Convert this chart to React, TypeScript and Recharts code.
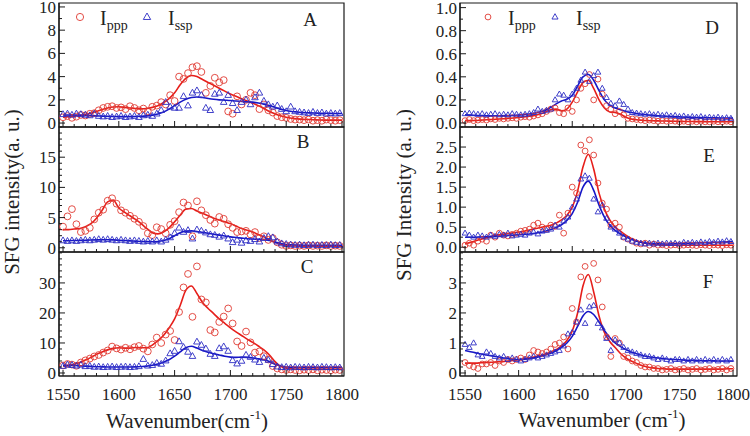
import React from 'react';
import { ComposedChart, Scatter, Line, XAxis, YAxis, ReferenceArea } from 'recharts';

const FONT = "'Liberation Serif', 'DejaVu Serif', 'Times New Roman', serif";
const AXIS = '#1a1a1a';
const RED = '#e03a32';
const BLUE = '#2c2cc4';
const RED_LINE = '#e61e1a';
const BLUE_LINE = '#1616c6';

// wavenumber grid of the measured points (cm-1)
const scanWn = [
  1550, 1554, 1558, 1562, 1566, 1570, 1574, 1578, 1582, 1586,
  1590, 1594, 1598, 1602, 1606, 1610, 1614, 1618, 1622, 1626,
  1630, 1634, 1638, 1642, 1646, 1650, 1654, 1658, 1662, 1666,
  1670, 1674, 1678, 1682, 1686, 1690, 1694, 1698, 1702, 1706,
  1710, 1714, 1718, 1722, 1726, 1730, 1734, 1738, 1742, 1746,
  1750, 1754, 1758, 1762, 1766, 1770, 1774, 1778, 1782, 1786,
  1790, 1794, 1798,
];

// wavenumber grid of the fitted curves
const fitWn = [
  1550, 1555, 1560, 1565, 1570, 1575, 1580, 1585, 1590, 1595,
  1600, 1605, 1610, 1615, 1620, 1625, 1630, 1635, 1640, 1645,
  1650, 1655, 1660, 1665, 1670, 1675, 1680, 1685, 1690, 1695,
  1700, 1705, 1710, 1715, 1720, 1725, 1730, 1735, 1740, 1745,
  1750, 1755, 1760, 1765, 1770, 1775, 1780, 1785, 1790, 1795,
  1800,
];

const xLabels = [1550, 1600, 1650, 1700, 1750, 1800];

// ---- panel A ----
const aPpp = [
  0.5, 0.6, 0.45, 0.55, 0.7, 0.65, 0.8, 0.85, 1.1, 1.3,
  1.4, 1.45, 1.3, 1.35, 1.2, 1.45, 1.3, 1.1, 1.25, 1.0,
  1.4, 1.5, 1.8, 1.6, 2.4, 1.9, 4.0, 3.8, 4.3, 4.8,
  4.9, 4.4, 2.6, 3.2, 3.9, 3.5, 3.7, 1.0, 0.8, 2.3,
  1.6, 2.0, 2.6, 2.4, 1.2, 1.6, 1.1, 0.9, 0.6, 0.5,
  0.45, 0.35, 0.3, 0.3, 0.25, 0.3, 0.2, 0.25, 0.2, 0.3,
  0.25, 0.2, 0.25,
];
const aSsp = [
  0.75, 0.8, 0.7, 0.8, 0.75, 0.7, 0.65, 0.8, 0.6, 0.55,
  0.6, 0.5, 0.55, 0.6, 0.5, 0.55, 0.6, 0.5, 0.65, 0.7,
  0.6, 0.8, 1.1, 1.8, 1.4, 1.3, 1.3, 2.3, 1.5, 2.6,
  2.8, 2.4, 1.3, 1.1, 2.5, 2.6, 1.8, 2.4, 1.7, 1.1,
  1.8, 2.0, 1.6, 2.2, 2.6, 1.9, 1.6, 1.4, 1.5, 1.2,
  1.0, 1.4, 1.0, 0.95, 0.9, 0.85, 0.95, 0.85, 0.9, 0.8,
  0.85, 0.8, 0.85,
];
const aPppFit = [
  0.5, 0.55, 0.6, 0.65, 0.75, 0.85, 1.0, 1.15, 1.3, 1.38,
  1.4, 1.35, 1.3, 1.25, 1.22, 1.25, 1.35, 1.5, 1.75, 2.1,
  2.6, 3.3, 3.85, 4.1, 4.0, 3.75, 3.5, 3.25, 3.0, 2.75,
  2.5, 2.3, 2.1, 1.9, 1.7, 1.5, 1.25, 1.0, 0.8, 0.62,
  0.5, 0.42, 0.36, 0.32, 0.3, 0.28, 0.26, 0.25, 0.25, 0.25,
  0.25,
];
const aSspFit = [
  0.7, 0.7, 0.7, 0.68, 0.66, 0.64, 0.62, 0.6, 0.58, 0.56,
  0.55, 0.55, 0.55, 0.56, 0.58, 0.62, 0.68, 0.78, 0.95, 1.2,
  1.5, 1.8, 2.05, 2.2, 2.25, 2.2, 2.12, 2.05, 2.0, 1.97,
  1.94, 1.9, 1.87, 1.84, 1.8, 1.72, 1.62, 1.5, 1.35, 1.2,
  1.08, 1.0, 0.95, 0.9, 0.88, 0.86, 0.85, 0.84, 0.83, 0.82,
  0.82,
];

// ---- panel B ----
const bPpp = [
  3.5, 5.2, 6.4, 3.9, 2.6, 2.8, 3.3, 4.7, 5.8, 6.3,
  7.8, 8.2, 7.3, 6.2, 5.8, 5.3, 4.8, 4.3, 3.6, 2.4,
  2.1, 3.4, 3.1, 2.4, 3.8, 4.4, 5.9, 7.5, 7.0, 1.9,
  7.7, 6.2, 5.4, 4.6, 4.0, 5.1, 4.8, 3.9, 3.3, 2.6,
  2.7, 2.8, 2.2, 2.6, 1.6, 1.9, 1.3, 1.6, 0.9, 0.5,
  0.3, 0.4, 0.3, 0.35, 0.3, 0.4, 0.3, 0.35, 0.3, 0.4,
  0.3, 0.35, 0.3,
];
const bSsp = [
  1.2, 1.1, 1.2, 1.1, 1.2, 1.3, 1.2, 1.3, 1.4, 1.3,
  1.4, 1.3, 1.2, 1.3, 1.2, 1.1, 1.2, 1.1, 1.0, 1.1,
  1.0, 1.2, 1.0, 1.3, 1.7, 2.4, 3.3, 2.6, 2.9, 1.5,
  3.0, 2.8, 2.5, 2.2, 2.1, 1.8, 2.0, 1.5, 0.9, 1.3,
  0.8, 1.2, 1.1, 1.4, 1.0, 1.6, 1.9, 1.7, 1.0, 0.7,
  0.6, 0.5, 0.45, 0.5, 0.4, 0.45, 0.5, 0.4, 0.45, 0.4,
  0.5, 0.4, 0.45,
];
const bPppFit = [
  3.0, 3.0, 3.1, 3.2, 3.5, 4.0, 4.9, 6.2, 7.6, 7.9,
  6.6, 5.9, 5.3, 4.7, 4.0, 3.2, 2.5, 2.3, 2.6, 3.3,
  4.3, 5.4, 6.4, 6.5, 6.1, 5.7, 5.3, 4.9, 4.6, 4.3,
  4.0, 3.6, 3.2, 2.9, 2.6, 2.2, 1.8, 1.3, 0.9, 0.6,
  0.4, 0.3, 0.28, 0.26, 0.25, 0.25, 0.25, 0.25, 0.25, 0.25,
  0.25,
];
const bSspFit = [
  1.15, 1.17, 1.2, 1.22, 1.25, 1.28, 1.3, 1.32, 1.33, 1.3,
  1.25, 1.2, 1.15, 1.1, 1.05, 1.02, 1.0, 1.05, 1.2, 1.5,
  2.0, 2.5, 2.75, 2.8, 2.7, 2.55, 2.4, 2.25, 2.1, 1.95,
  1.8, 1.7, 1.6, 1.5, 1.45, 1.4, 1.35, 1.2, 0.95, 0.7,
  0.55, 0.48, 0.45, 0.43, 0.42, 0.42, 0.42, 0.42, 0.42, 0.42,
  0.42,
];

// ---- panel C ----
const cPpp = [
  2.5, 3.0, 2.8, 2.4, 3.5, 4.2, 4.8, 5.5, 6.0, 6.8,
  7.5, 8.8, 8.2, 7.8, 8.4, 7.9, 8.6, 9.0, 8.1, 7.2,
  9.5, 11.8, 10.0, 12.8, 14.0, 11.0, 20.3, 28.5, 33.0, 18.7,
  35.5, 24.5, 23.5, 14.3, 13.5, 17.0, 18.8, 21.5, 16.5, 10.5,
  9.0, 13.8, 10.2, 6.8, 7.2, 5.6, 4.5, 2.3, 1.5, 1.2,
  1.0, 1.2, 1.0, 0.9, 1.1, 1.0, 1.2, 0.9, 1.1, 1.0,
  0.9, 1.1, 1.0,
];
const cSsp = [
  2.3, 2.8, 2.6, 2.4, 2.7, 2.2, 2.3, 2.0, 2.1, 1.9,
  2.0, 2.1, 1.9, 2.0, 2.1, 1.9, 2.0, 2.2, 4.6, 2.4,
  2.6, 3.3, 3.0, 4.1, 6.5, 7.3, 10.5, 8.6, 7.0, 5.6,
  10.4, 9.3, 8.1, 6.3, 5.6, 8.2, 8.8, 7.3, 4.2, 3.1,
  4.0, 6.0, 5.3, 4.4, 3.6, 5.0, 4.3, 2.9, 2.1, 1.9,
  2.0, 1.8, 2.0, 1.9, 1.8, 2.0, 1.9, 1.8, 2.0, 1.9,
  1.8, 1.9, 1.8,
];
const cPppFit = [
  2.3, 2.5, 2.9, 3.5, 4.3, 5.2, 6.2, 7.0, 7.7, 8.2,
  8.4, 8.3, 8.3, 8.5, 8.4, 8.4, 9.3, 10.8, 12.5, 15.0,
  18.0, 22.5, 27.5, 29.0, 26.5, 23.5, 21.5, 19.8, 18.0, 16.5,
  15.0, 13.7, 12.5, 11.3, 10.2, 9.0, 7.7, 6.0, 3.8, 2.2,
  1.6, 1.4, 1.3, 1.3, 1.3, 1.3, 1.3, 1.3, 1.3, 1.3,
  1.3,
];
const cSspFit = [
  2.6, 2.6, 2.5, 2.4, 2.3, 2.2, 2.1, 2.05, 2.0, 2.0,
  2.0, 2.0, 2.0, 2.05, 2.15, 2.3, 2.6, 3.0, 3.6, 4.4,
  5.6, 7.0, 8.4, 8.9, 8.3, 7.5, 6.9, 6.4, 6.0, 5.6,
  5.3, 5.2, 5.3, 5.2, 5.0, 4.7, 4.4, 3.8, 2.9, 2.3,
  2.0, 1.9, 1.9, 1.9, 1.9, 1.9, 1.9, 1.9, 1.9, 1.9,
  1.9,
];

// ---- panel D ----
const dPpp = [
  0.02, 0.03, 0.02, 0.025, 0.03, 0.025, 0.035, 0.03, 0.04, 0.035,
  0.04, 0.045, 0.04, 0.05, 0.055, 0.05, 0.06, 0.07, 0.08, 0.1,
  0.12, 0.13, 0.09, 0.08, 0.13, 0.1, 0.2, 0.3, 0.34, 0.42,
  0.2, 0.38, 0.25, 0.15, 0.12, 0.08, 0.1, 0.07, 0.04, 0.035,
  0.03, 0.025, 0.02, 0.025, 0.02, 0.015, 0.02, 0.015, 0.02, 0.015,
  0.01, 0.015, 0.01, 0.015, 0.01, 0.015, 0.01, 0.01, 0.015, 0.01,
  0.01, 0.015, 0.01,
];
const dSsp = [
  0.08, 0.085, 0.08, 0.075, 0.08, 0.07, 0.075, 0.08, 0.07, 0.075,
  0.07, 0.08, 0.075, 0.07, 0.075, 0.08, 0.09, 0.12, 0.1, 0.11,
  0.12, 0.2, 0.25, 0.24, 0.2, 0.25, 0.3, 0.37, 0.44, 0.36,
  0.41, 0.44, 0.3, 0.22, 0.17, 0.15, 0.19, 0.16, 0.12, 0.09,
  0.085, 0.08, 0.075, 0.08, 0.07, 0.075, 0.065, 0.07, 0.06, 0.065,
  0.055, 0.06, 0.05, 0.055, 0.05, 0.055, 0.045, 0.05, 0.045, 0.05,
  0.04, 0.045, 0.04,
];
const dPppFit = [
  0.02, 0.02, 0.022, 0.025, 0.028, 0.03, 0.033, 0.036, 0.04, 0.043,
  0.047, 0.052, 0.058, 0.066, 0.078, 0.095, 0.115, 0.12, 0.105, 0.12,
  0.18, 0.27, 0.35, 0.37, 0.3, 0.2, 0.13, 0.095, 0.09, 0.075,
  0.05, 0.035, 0.028, 0.024, 0.021, 0.019, 0.018, 0.017, 0.016, 0.015,
  0.014, 0.013, 0.013, 0.012, 0.012, 0.011, 0.011, 0.01, 0.01, 0.01,
  0.01,
];
const dSspFit = [
  0.07, 0.068, 0.066, 0.064, 0.063, 0.062, 0.062, 0.063, 0.064, 0.066,
  0.068, 0.072, 0.077, 0.085, 0.095, 0.11, 0.135, 0.165, 0.19, 0.205,
  0.24, 0.32, 0.4, 0.42, 0.37, 0.28, 0.2, 0.155, 0.13, 0.115,
  0.1, 0.09, 0.082, 0.076, 0.071, 0.067, 0.063, 0.06, 0.057, 0.055,
  0.053, 0.051, 0.05, 0.048, 0.047, 0.046, 0.045, 0.044, 0.043, 0.042,
  0.042,
];

// ---- panel E ----
const ePpp = [
  0.05, 0.1, 0.05, 0.15, 0.2, 0.15, 0.3, 0.25, 0.35, 0.3,
  0.28, 0.32, 0.35, 0.4, 0.42, 0.45, 0.55, 0.6, 0.5, 0.45,
  0.55, 0.52, 0.8, 0.35, 0.85, 1.5, 1.35, 2.55, 2.4, 2.68,
  2.3, 1.6, 1.1, 0.95, 0.55, 0.6, 0.5, 0.25, 0.2, 0.15,
  0.1, 0.08, 0.1, 0.05, 0.08, 0.05, 0.06, 0.04, 0.05, 0.06,
  0.04, 0.05, 0.06, 0.05, 0.04, 0.06, 0.05, 0.04, 0.06, 0.05,
  0.04, 0.06, 0.05,
];
const eSsp = [
  0.35, 0.3, 0.25, 0.3, 0.28, 0.25, 0.3, 0.27, 0.32, 0.3,
  0.35, 0.28, 0.3, 0.32, 0.3, 0.35, 0.38, 0.33, 0.4, 0.42,
  0.45, 0.55, 0.5, 0.65, 0.75, 1.0, 1.2, 1.7, 1.78, 1.72,
  1.2, 0.88, 1.05, 0.72, 0.5, 0.45, 0.35, 0.25, 0.2, 0.15,
  0.12, 0.1, 0.08, 0.1, 0.08, 0.1, 0.08, 0.1, 0.09, 0.1,
  0.08, 0.12, 0.1, 0.12, 0.1, 0.13, 0.11, 0.14, 0.12, 0.15,
  0.13, 0.16, 0.14,
];
const ePppFit = [
  0.08, 0.12, 0.16, 0.2, 0.24, 0.27, 0.3, 0.32, 0.34, 0.36,
  0.38, 0.4, 0.43, 0.46, 0.49, 0.52, 0.55, 0.6, 0.68, 0.8,
  1.0, 1.4, 2.0, 2.32, 1.95, 1.35, 0.95, 0.68, 0.5, 0.4,
  0.3, 0.22, 0.16, 0.12, 0.09, 0.07, 0.06, 0.05, 0.05, 0.05,
  0.05, 0.05, 0.05, 0.05, 0.05, 0.05, 0.05, 0.05, 0.05, 0.05,
  0.05,
];
const eSspFit = [
  0.25, 0.25, 0.25, 0.26, 0.26, 0.27, 0.27, 0.28, 0.29, 0.3,
  0.31, 0.32, 0.33, 0.35, 0.37, 0.4, 0.44, 0.49, 0.56, 0.67,
  0.84, 1.12, 1.5, 1.65, 1.42, 1.05, 0.75, 0.55, 0.42, 0.33,
  0.26, 0.2, 0.15, 0.12, 0.1, 0.09, 0.085, 0.08, 0.08, 0.085,
  0.09, 0.095, 0.1, 0.105, 0.11, 0.115, 0.12, 0.125, 0.13, 0.135,
  0.14,
];

// ---- panel F ----
const fPpp = [
  0.35, 0.25, 0.2, 0.15, 0.3, 0.3, 0.35, 0.25, 0.4, 0.35,
  0.45, 0.4, 0.45, 0.5, 0.45, 0.6, 0.75, 0.7, 0.65, 0.7,
  0.8, 0.95, 1.0, 1.2, 0.8, 2.15, 1.7, 3.2, 3.55, 2.55,
  3.65, 3.1, 2.2, 1.2, 0.55, 1.15, 1.0, 0.55, 0.5, 0.4,
  0.35, 0.25, 0.2, 0.2, 0.15, 0.15, 0.1, 0.12, 0.15, 0.1,
  0.12, 0.15, 0.1, 0.12, 0.15, 0.1, 0.12, 0.15, 0.1, 0.12,
  0.15, 0.1, 0.15,
];
const fSsp = [
  0.95, 0.85, 1.0, 0.6, 0.55, 0.7, 0.65, 0.55, 0.5, 0.55,
  0.45, 0.5, 0.45, 0.4, 0.45, 0.5, 0.55, 0.5, 0.55, 0.6,
  0.65, 0.7, 0.75, 0.9, 1.3, 1.35, 1.7, 2.1, 1.65, 2.2,
  2.25, 1.65, 1.5, 1.15, 0.75, 1.1, 1.0, 0.85, 0.75, 0.7,
  0.65, 0.6, 0.55, 0.55, 0.5, 0.45, 0.5, 0.45, 0.4, 0.45,
  0.45, 0.4, 0.45, 0.4, 0.45, 0.4, 0.45, 0.4, 0.45, 0.4,
  0.45, 0.4, 0.45,
];
const fPppFit = [
  0.33, 0.33, 0.33, 0.34, 0.35, 0.36, 0.37, 0.38, 0.4, 0.42,
  0.44, 0.47, 0.5, 0.54, 0.58, 0.63, 0.7, 0.78, 0.9, 1.08,
  1.4, 2.0, 2.9, 3.28, 2.7, 1.9, 1.35, 1.05, 0.85, 0.65,
  0.5, 0.4, 0.32, 0.25, 0.2, 0.17, 0.15, 0.14, 0.13, 0.13,
  0.13, 0.13, 0.13, 0.13, 0.13, 0.13, 0.13, 0.13, 0.13, 0.14,
  0.14,
];
const fSspFit = [
  0.75, 0.71, 0.67, 0.63, 0.6, 0.57, 0.54, 0.51, 0.48, 0.46,
  0.45, 0.46, 0.48, 0.51, 0.55, 0.6, 0.66, 0.74, 0.85, 1.0,
  1.22, 1.55, 1.9, 2.05, 1.95, 1.7, 1.42, 1.18, 1.0, 0.88,
  0.78, 0.7, 0.64, 0.59, 0.55, 0.52, 0.5, 0.48, 0.46, 0.45,
  0.44, 0.43, 0.42, 0.42, 0.41, 0.41, 0.41, 0.4, 0.4, 0.4,
  0.4,
];

// labelled y ticks per panel
const aYLabels = [0, 2, 4, 6, 8, 10];
const bYLabels = [0, 5, 10, 15];
const cYLabels = [0, 10, 20, 30];
const dYLabels = [0, 0.2, 0.4, 0.6, 0.8, 1.0];
const eYLabels = [0, 0.5, 1.0, 1.5, 2.0, 2.5];
const fYLabels = [0, 1, 2, 3];

function steps(lo: number, hi: number, step: number) {
  const out: number[] = [];
  for (let i = 0; lo + i * step <= hi + 1e-9; i++) out.push(+(lo + i * step).toFixed(4));
  return out;
}

const toPts = (xs: number[], ys: number[]) => xs.map((x, i) => ({ x, y: ys[i] }));

const COLS = {
  L: { left: 0, width: 360, yw: 59, right: 16, x: [1546.4, 1801.8] as [number, number] },
  R: { left: 370, width: 380, yw: 90, right: 13, x: [1545.3, 1803.7] as [number, number] },
};
const ROWS = [[3, 127], [127, 252], [252, 376]];
const H = 436;
const XH = 34;

const xTick = (labels: boolean) => (p: any) => {
  const v = p.payload.value;
  const major = xLabels.includes(v);
  return (
    <g>
      <line x1={p.x} x2={p.x} y1={p.y} y2={p.y - (major ? 6 : 3)} stroke={AXIS} strokeWidth={1} />
      {labels && major ? (
        <text x={p.x} y={p.y + 24} textAnchor="middle" fontSize={17} fontFamily={FONT} fill="#222">
          {String(v)}
        </text>
      ) : null}
    </g>
  );
};

const yTick = (labels: number[], dec: number) => (p: any) => {
  const v = p.payload.value;
  const major = labels.some((m) => Math.abs(m - v) < 1e-6);
  return (
    <g>
      <line x1={p.x} x2={p.x + (major ? 6 : 3)} y1={p.y} y2={p.y} stroke={AXIS} strokeWidth={1} />
      {major ? (
        <text x={p.x - 3} y={p.y} dy="0.35em" textAnchor="end" fontSize={17} fontFamily={FONT} fill="#222">
          {v.toFixed(dec)}
        </text>
      ) : null}
    </g>
  );
};

const circleShape = (r: number) => (p: any) => (
  <circle cx={p.cx} cy={p.cy} r={r} fill="none" stroke={RED} strokeWidth={0.9} />
);

const triShape = (r: number) => (p: any) => {
  const s = r + 0.2;
  const d = `M${p.cx},${p.cy - s} L${p.cx + s * 0.92},${p.cy + s * 0.62} L${p.cx - s * 0.92},${p.cy + s * 0.62} Z`;
  return <path d={d} fill="none" stroke={BLUE} strokeWidth={0.9} />;
};

interface PanelProps {
  col: 'L' | 'R';
  row: number;
  yDomain: [number, number];
  yStep: number;
  yLabels: number[];
  dec: number;
  ppp: number[];
  ssp: number[];
  pppFit: number[];
  sspFit: number[];
  r: number;
}

function Panel({ col, row, yDomain, yStep, yLabels, dec, ppp, ssp, pppFit, sspFit, r }: PanelProps) {
  const c = COLS[col];
  const [top, bottom] = ROWS[row];
  const xTicks = steps(1550, 1800, 10);
  const yTicks = steps(0, yDomain[1], yStep);
  return (
    <div style={{ position: 'absolute', left: c.left, top: 0 }}>
      <ComposedChart
        width={c.width}
        height={H}
        margin={{ top, bottom: H - bottom - XH, left: 0, right: c.right }}
      >
        <XAxis
          dataKey="x"
          type="number"
          domain={c.x}
          allowDataOverflow
          ticks={xTicks}
          interval={0}
          tickSize={0}
          tickMargin={0}
          tickLine={false}
          tick={xTick(row === 2)}
          axisLine={{ stroke: AXIS, strokeWidth: 1.2 }}
          height={XH}
        />
        <YAxis
          dataKey="y"
          type="number"
          domain={yDomain}
          allowDataOverflow
          ticks={yTicks}
          interval={0}
          tickSize={0}
          tickMargin={0}
          tickLine={false}
          tick={yTick(yLabels, dec)}
          axisLine={{ stroke: AXIS, strokeWidth: 1.2 }}
          width={c.yw}
        />
        <ReferenceArea
          x1={c.x[0]}
          x2={c.x[1]}
          y1={yDomain[0]}
          y2={yDomain[1]}
          fill="none"
          stroke={AXIS}
          strokeWidth={1.2}
          ifOverflow="visible"
        />
        <Scatter data={toPts(scanWn, ppp)} dataKey="y" shape={circleShape(r)} isAnimationActive={false} />
        <Scatter data={toPts(scanWn, ssp)} dataKey="y" shape={triShape(r)} isAnimationActive={false} />
        <Line data={toPts(fitWn, pppFit)} dataKey="y" type="monotone" stroke={RED_LINE} strokeWidth={1.6} dot={false} isAnimationActive={false} />
        <Line data={toPts(fitWn, sspFit)} dataKey="y" type="monotone" stroke={BLUE_LINE} strokeWidth={1.6} dot={false} isAnimationActive={false} />
      </ComposedChart>
    </div>
  );
}

function Legend({ x, r }: { x: number; r: number }) {
  const s = r + 0.4;
  const tx = x + 67;
  return (
    <g fontFamily={FONT} fill="#222">
      <circle cx={x} cy={17} r={r} fill="none" stroke={RED} strokeWidth={0.9} />
      <text x={x + 20} y={25} fontSize={20}>
        I<tspan dy={5} fontSize={14}>ppp</tspan>
      </text>
      <path
        d={`M${tx},${17 - s} L${tx + s * 0.92},${17 + s * 0.62} L${tx - s * 0.92},${17 + s * 0.62} Z`}
        fill="none"
        stroke={BLUE}
        strokeWidth={0.9}
      />
      <text x={tx + 21} y={25} fontSize={20}>
        I<tspan dy={5} fontSize={14}>ssp</tspan>
      </text>
    </g>
  );
}

export default function App() {
  return (
    <div style={{ position: 'absolute', left: 0, top: 0, width: 750, height: H, background: '#fff', overflow: 'hidden', fontFamily: FONT }}>
      <Panel col="L" row={0} yDomain={[-0.34, 10.34]} yStep={1} yLabels={aYLabels} dec={0} ppp={aPpp} ssp={aSsp} pppFit={aPppFit} sspFit={aSspFit} r={3.4} />
      <Panel col="L" row={1} yDomain={[-0.7, 20]} yStep={1} yLabels={bYLabels} dec={0} ppp={bPpp} ssp={bSsp} pppFit={bPppFit} sspFit={bSspFit} r={3.4} />
      <Panel col="L" row={2} yDomain={[-1, 40.3]} yStep={2} yLabels={cYLabels} dec={0} ppp={cPpp} ssp={cSsp} pppFit={cPppFit} sspFit={cSspFit} r={3.4} />
      <Panel col="R" row={0} yDomain={[-0.035, 1.04]} yStep={0.1} yLabels={dYLabels} dec={1} ppp={dPpp} ssp={dSsp} pppFit={dPppFit} sspFit={dSspFit} r={2.9} />
      <Panel col="R" row={1} yDomain={[-0.12, 3.0]} yStep={0.25} yLabels={eYLabels} dec={1} ppp={ePpp} ssp={eSsp} pppFit={ePppFit} sspFit={eSspFit} r={2.9} />
      <Panel col="R" row={2} yDomain={[-0.1, 4.03]} yStep={0.2} yLabels={fYLabels} dec={0} ppp={fPpp} ssp={fSsp} pppFit={fPppFit} sspFit={fSspFit} r={2.9} />

      <svg width={750} height={H} style={{ position: 'absolute', left: 0, top: 0, pointerEvents: 'none' }}>
        <Legend x={80} r={3.6} />
        <Legend x={488} r={2.9} />

        <g fontFamily={FONT} fontSize={19} fill="#222" textAnchor="middle">
          <text x={310} y={26}>A</text>
          <text x={303} y={148}>B</text>
          <text x={307} y={273}>C</text>
          <text x={712} y={34}>D</text>
          <text x={709} y={162}>E</text>
          <text x={708} y={288}>F</text>
        </g>

        <g fontFamily={FONT} fontSize={21} fill="#222" textAnchor="middle">
          <text transform="translate(19,192) rotate(-90)">SFG intensity(a. u.)</text>
          <text transform="translate(411,195) rotate(-90)">SFG Intensity (a. u.)</text>
          <text x={187} y={428}>
            Wavenumber(cm<tspan dy={-9} fontSize={13}>-1</tspan>
            <tspan dy={9}>)</tspan>
          </text>
          <text x={602} y={427}>
            Wavenumber (cm<tspan dy={-9} fontSize={13}>-1</tspan>
            <tspan dy={9}>)</tspan>
          </text>
        </g>
      </svg>
    </div>
  );
}
